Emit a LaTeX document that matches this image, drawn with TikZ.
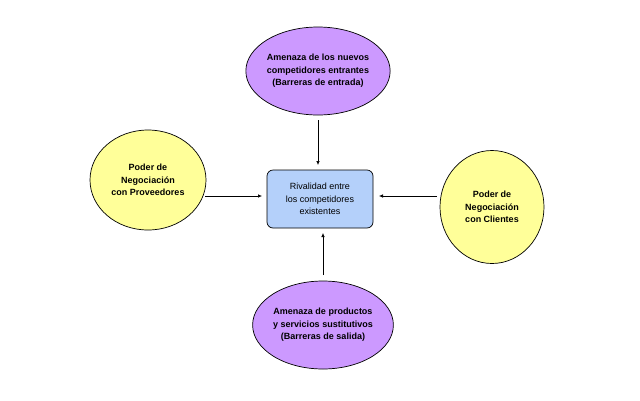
\documentclass[tikz,border=0pt]{standalone}
\usepackage{fontspec}
\setmainfont{Liberation Sans}
\usetikzlibrary{shapes.geometric,arrows.meta}
\definecolor{purp}{HTML}{CC99FF}
\definecolor{yel}{HTML}{FFFF99}
\definecolor{blu}{HTML}{B4D0FA}
\tikzset{x=1pt,y=-1pt,
 ell/.style={ellipse,draw=black,line width=0.7pt,inner sep=0pt,align=center,font=\fontsize{9}{12.5}\selectfont\bfseries},
 arr/.style={-{Latex[length=4pt,width=3.5pt]},line width=0.6pt}}
\begin{document}
\begin{tikzpicture}
\useasboundingbox (0,0) rectangle (640,400);
\node[ell,fill=purp,minimum width=131pt,minimum height=88pt] (top) at (318,71) {Amenaza de los nuevos\\competidores entrantes\\ (Barreras de entrada)};
\node[ell,fill=yel,minimum width=116pt,minimum height=100pt] (left) at (148,180) {Poder de\\Negociación\\con Proveedores};
\node[ell,fill=yel,minimum width=104pt,minimum height=113pt] (right) at (492,207) {Poder de\\Negociación\\con Clientes};
\node[ell,fill=purp,minimum width=130pt,minimum height=88pt] (bot) at (323,325) {Amenaza de productos\\y servicios sustitutivos\\(Barreras de salida)};
\node[draw=black,line width=0.7pt,fill=blu,rounded corners=6pt,minimum width=106pt,minimum height=58pt,align=center,font=\fontsize{9}{12.5}\selectfont] (c) at (320,199) {Rivalidad entre\\los competidores\\existentes};
\coordinate (t1) at (318,120); \coordinate (t2) at (318,165);
\coordinate (l1) at (205,196); \coordinate (l2) at (262,196);
\coordinate (r1) at (437,196); \coordinate (r2) at (379,196);
\coordinate (b1) at (323,275); \coordinate (b2) at (323,233);
\draw[arr] (t1) -- (t2);
\draw[arr] (l1) -- (l2);
\draw[arr] (r1) -- (r2);
\draw[arr] (b1) -- (b2);
\end{tikzpicture}
\end{document}
